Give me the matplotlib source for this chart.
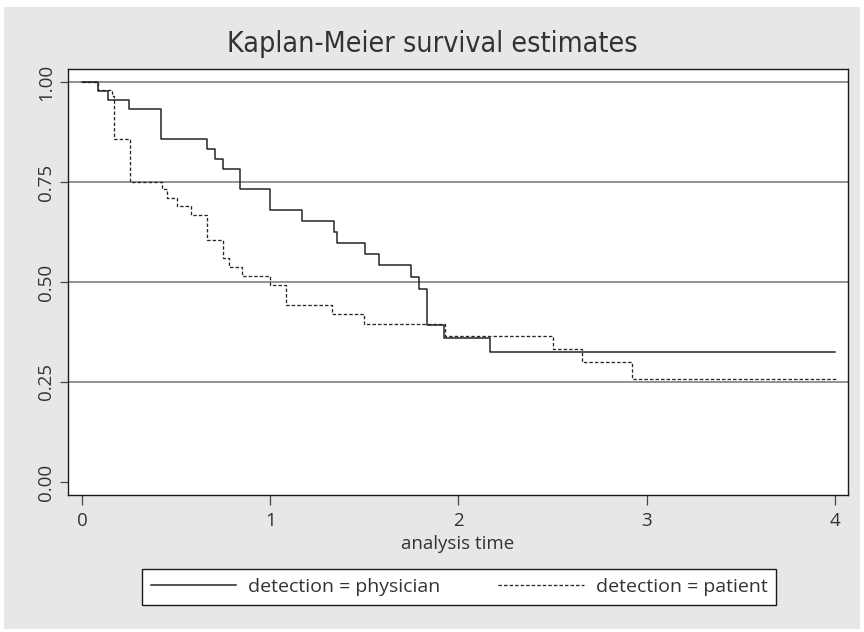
import numpy as np
import matplotlib
matplotlib.use("Agg")
from matplotlib import pyplot as plt
from matplotlib.patches import Rectangle

# Kaplan-Meier step estimates
phys_time = [0, 0.083, 0.137, 0.25, 0.42, 0.664, 0.706, 0.749, 0.837, 1.0,
             1.168, 1.337, 1.356, 1.503, 1.58, 1.75, 1.79, 1.832, 1.921, 2.169, 4.0]
phys_surv = [1.0, 0.978, 0.955, 0.932, 0.857, 0.833, 0.807, 0.782, 0.732, 0.679,
             0.652, 0.625, 0.598, 0.570, 0.543, 0.513, 0.483, 0.393, 0.361, 0.326, 0.326]

pat_time = [0, 0.083, 0.161, 0.168, 0.253, 0.427, 0.452, 0.503, 0.579, 0.665,
            0.749, 0.78, 0.851, 0.999, 1.085, 1.33, 1.5, 1.93, 2.5, 2.655, 2.92, 4.01]
pat_surv = [1.0, 0.98, 0.966, 0.857, 0.75, 0.732, 0.711, 0.689, 0.668, 0.605,
            0.561, 0.538, 0.516, 0.4925, 0.443, 0.42, 0.395, 0.365, 0.3325, 0.30, 0.257, 0.257]

yticks = [0, 0.25, 0.5, 0.75, 1.0]
ytick_labels = ['0.00', '0.25', '0.50', '0.75', '1.00']
xticks = [0, 1, 2, 3, 4]

W, H = 864, 632
FONT = 'Open Sans'
FS = 13.5


def fx(px):
    return px / W


def fy(py):
    return 1 - py / H


fig = plt.figure(figsize=(W / 100, H / 100), dpi=100)
fig.patch.set_facecolor('white')
fig.add_artist(Rectangle((fx(4), fy(629)), fx(856), 622 / H, transform=fig.transFigure,
                         facecolor='#e6e7e9', edgecolor='none', zorder=0))

ax = fig.add_axes([fx(68), fy(495), fx(780), (495 - 69) / H])
ax.set_facecolor('white')

for y in yticks[1:]:
    ax.axhline(y, color='#8a8a8a', lw=1.3, zorder=1)

ax.step(phys_time, phys_surv, where='post', color='#262626', lw=1.1,
        label='detection = physician', zorder=3)
ax.step(pat_time, pat_surv, where='post', color='#262626', lw=0.95,
        dashes=(2.6, 1.6), label='detection = patient', zorder=3)

ax.set_xlim(-0.074, 4.069)
ax.set_ylim(-0.0325, 1.0325)
ax.set_xticks(xticks)
ax.set_yticks(yticks)
ax.set_yticklabels(ytick_labels, rotation=90, va='center')
ax.tick_params(axis='y', length=6, width=0.9, color='#444444', pad=3,
               labelsize=FS, labelcolor='#333333')
ax.tick_params(axis='x', length=7.5, width=0.9, color='#444444', pad=5,
               labelsize=FS, labelcolor='#333333')
for lab in ax.get_xticklabels() + ax.get_yticklabels():
    lab.set_family(FONT)
for s in ax.spines.values():
    s.set_color('#1a1a1a')
    s.set_linewidth(1.0)

ax.set_xlabel('analysis time', family=FONT, fontsize=FS, color='#333333', labelpad=3)

fig.text(0.5, fy(44), 'Kaplan-Meier survival estimates', ha='center', va='center',
         family='DejaVu Sans', fontstretch='condensed', fontsize=20.5, color='#333333')

leg = fig.legend(loc='center', bbox_to_anchor=(fx(459), fy(587)), ncol=2,
                 prop={'family': FONT, 'size': 14}, frameon=True, fancybox=False,
                 edgecolor='#1a1a1a', framealpha=1, handlelength=4.4, handletextpad=0.6,
                 columnspacing=3.0, borderpad=0.45, labelcolor='#333333')
leg.get_frame().set_linewidth(1.0)

fig.savefig('out.png', dpi=100, facecolor='white')
